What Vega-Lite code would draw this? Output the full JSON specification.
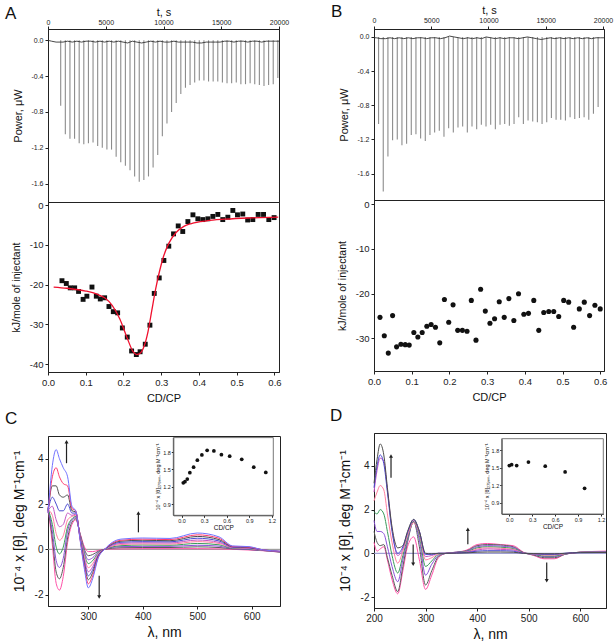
{
"$schema":"https://vega.github.io/schema/vega-lite/v6.json",
"background":"white",
"padding":{"left":4,"top":2,"right":0,"bottom":0},
"config":{
 "font":"Liberation Sans",
 "locale":{"number":{"decimal":".","thousands":"","grouping":[3],"currency":["$",""],"minus":"-"}},
 "view":{"stroke":"#222","strokeWidth":1},
 "axis":{"grid":false,"domainColor":"#222","tickColor":"#222","labelColor":"#222","titleColor":"#111","titleFontWeight":"normal","tickSize":3,"labelFontSize":7,"titleFontSize":11,"labelPadding":2,"labelFlush":false,"labelOverlap":false},
 "title":{"fontWeight":"normal","fontSize":17,"anchor":"start","frame":"bounds","color":"#111"}
},
"datasets":{
"rawA":[{"t":1100,"p":-0.73},{"t":1500,"p":-1.05},{"t":1900,"p":-1.1},{"t":2300,"p":-1.1},{"t":2700,"p":-1.15},{"t":3100,"p":-1.16},{"t":3500,"p":-1.15},{"t":3900,"p":-1.14},{"t":4300,"p":-1.18},{"t":4700,"p":-1.2},{"t":5100,"p":-1.22},{"t":5500,"p":-1.22},{"t":5900,"p":-1.3},{"t":6300,"p":-1.36},{"t":6700,"p":-1.4},{"t":7100,"p":-1.45},{"t":7500,"p":-1.52},{"t":7900,"p":-1.58},{"t":8300,"p":-1.56},{"t":8700,"p":-1.52},{"t":9100,"p":-1.42},{"t":9500,"p":-1.28},{"t":9900,"p":-1.07},{"t":10300,"p":-0.93},{"t":10700,"p":-0.8},{"t":11100,"p":-0.7},{"t":11500,"p":-0.6},{"t":11900,"p":-0.53},{"t":12300,"p":-0.5},{"t":12700,"p":-0.47},{"t":13100,"p":-0.45},{"t":13500,"p":-0.45},{"t":13900,"p":-0.46},{"t":14300,"p":-0.46},{"t":14700,"p":-0.46},{"t":15100,"p":-0.47},{"t":15500,"p":-0.48},{"t":15900,"p":-0.48},{"t":16300,"p":-0.47},{"t":16700,"p":-0.49},{"t":17100,"p":-0.49},{"t":17500,"p":-0.48},{"t":17900,"p":-0.49},{"t":18300,"p":-0.5},{"t":18700,"p":-0.51},{"t":19100,"p":-0.5},{"t":19500,"p":-0.49},{"t":19900,"p":-0.42}],
"baseA":[{"t":0,"p":0.0},{"t":300,"p":-0.01},{"t":700,"p":-0.02},{"t":1300,"p":-0.02},{"t":1700,"p":-0.01},{"t":2100,"p":-0.02},{"t":2500,"p":-0.01},{"t":2900,"p":-0.02},{"t":3300,"p":-0.01},{"t":3700,"p":-0.01},{"t":4100,"p":-0.02},{"t":4500,"p":-0.01},{"t":4900,"p":-0.02},{"t":5300,"p":-0.01},{"t":5700,"p":-0.02},{"t":6100,"p":-0.01},{"t":6500,"p":-0.02},{"t":6900,"p":-0.03},{"t":7300,"p":-0.01},{"t":7700,"p":-0.02},{"t":8100,"p":-0.03},{"t":8500,"p":-0.02},{"t":8900,"p":-0.01},{"t":9300,"p":-0.02},{"t":9700,"p":-0.01},{"t":10100,"p":-0.02},{"t":10500,"p":-0.02},{"t":10900,"p":-0.01},{"t":11300,"p":-0.02},{"t":11700,"p":-0.02},{"t":12100,"p":-0.02},{"t":12500,"p":-0.02},{"t":12900,"p":-0.03},{"t":13300,"p":-0.03},{"t":13700,"p":-0.02},{"t":14100,"p":-0.02},{"t":14500,"p":-0.02},{"t":14900,"p":-0.02},{"t":15300,"p":-0.01},{"t":15700,"p":-0.01},{"t":16100,"p":-0.02},{"t":16500,"p":-0.01},{"t":16900,"p":-0.01},{"t":17300,"p":-0.02},{"t":17700,"p":-0.01},{"t":18100,"p":-0.01},{"t":18500,"p":-0.02},{"t":18900,"p":-0.01},{"t":19300,"p":-0.01},{"t":19700,"p":-0.01},{"t":20000,"p":-0.01}],
"rawB":[{"t":400,"p":-1.02},{"t":808,"p":-1.81},{"t":1216,"p":-1.4},{"t":1624,"p":-1.21},{"t":2032,"p":-1.2},{"t":2440,"p":-1.27},{"t":2848,"p":-1.25},{"t":3256,"p":-1.15},{"t":3664,"p":-1.14},{"t":4072,"p":-1.19},{"t":4480,"p":-1.22},{"t":4888,"p":-1.15},{"t":5296,"p":-1.12},{"t":5704,"p":-1.1},{"t":6112,"p":-1.17},{"t":6520,"p":-1.07},{"t":6928,"p":-1.12},{"t":7336,"p":-1.06},{"t":7744,"p":-1.05},{"t":8152,"p":-1.12},{"t":8560,"p":-1.05},{"t":8968,"p":-1.08},{"t":9376,"p":-1.03},{"t":9784,"p":-1.05},{"t":10192,"p":-1.03},{"t":10600,"p":-1.08},{"t":11008,"p":-1.03},{"t":11416,"p":-1.02},{"t":11824,"p":-1.04},{"t":12232,"p":-1.02},{"t":12640,"p":-0.94},{"t":13048,"p":-1.02},{"t":13456,"p":-0.98},{"t":13864,"p":-0.99},{"t":14272,"p":-1.0},{"t":14680,"p":-1.02},{"t":15088,"p":-1.0},{"t":15496,"p":-0.95},{"t":15904,"p":-0.97},{"t":16312,"p":-0.97},{"t":16720,"p":-0.98},{"t":17128,"p":-0.94},{"t":17536,"p":-0.96},{"t":17944,"p":-0.95},{"t":18352,"p":-0.94},{"t":18760,"p":-0.97},{"t":19168,"p":-0.9},{"t":19576,"p":-0.82}],
"baseB":[{"t":0,"p":-0.01},{"t":200,"p":-0.01},{"t":600,"p":-0.02},{"t":1000,"p":-0.02},{"t":1400,"p":-0.01},{"t":1800,"p":-0.02},{"t":2200,"p":-0.01},{"t":2600,"p":-0.02},{"t":3000,"p":-0.01},{"t":3400,"p":-0.02},{"t":3800,"p":-0.01},{"t":4200,"p":-0.01},{"t":4600,"p":-0.02},{"t":5000,"p":-0.01},{"t":5400,"p":-0.01},{"t":5800,"p":-0.02},{"t":6200,"p":-0.01},{"t":6600,"p":0.01},{"t":7000,"p":0.0},{"t":7400,"p":-0.01},{"t":7800,"p":-0.02},{"t":8200,"p":-0.01},{"t":8600,"p":-0.02},{"t":9000,"p":-0.01},{"t":9400,"p":-0.02},{"t":9800,"p":0.0},{"t":10200,"p":-0.01},{"t":10600,"p":-0.02},{"t":11000,"p":-0.01},{"t":11400,"p":-0.02},{"t":11800,"p":-0.01},{"t":12200,"p":-0.01},{"t":12600,"p":-0.02},{"t":13000,"p":-0.01},{"t":13400,"p":0.0},{"t":13800,"p":-0.01},{"t":14200,"p":-0.02},{"t":14600,"p":-0.03},{"t":15000,"p":-0.02},{"t":15400,"p":-0.01},{"t":15800,"p":-0.02},{"t":16200,"p":-0.01},{"t":16600,"p":-0.02},{"t":17000,"p":-0.01},{"t":17400,"p":-0.02},{"t":17800,"p":-0.01},{"t":18200,"p":-0.02},{"t":18600,"p":-0.01},{"t":19000,"p":-0.02},{"t":19400,"p":-0.01},{"t":19800,"p":-0.01},{"t":20090,"p":-0.01}],
"ptsA":[{"x":0.037,"y":-19.0},{"x":0.0485,"y":-19.7},{"x":0.059,"y":-20.8},{"x":0.0706,"y":-20.8},{"x":0.081,"y":-21.7},{"x":0.093,"y":-23.7},{"x":0.103,"y":-22.9},{"x":0.1165,"y":-20.6},{"x":0.128,"y":-22.9},{"x":0.1385,"y":-23.6},{"x":0.15,"y":-23.3},{"x":0.1615,"y":-25.5},{"x":0.173,"y":-26.8},{"x":0.1845,"y":-27.1},{"x":0.197,"y":-30.9},{"x":0.21,"y":-33.2},{"x":0.2215,"y":-36.7},{"x":0.234,"y":-37.6},{"x":0.244,"y":-36.9},{"x":0.2577,"y":-35.0},{"x":0.27,"y":-30.2},{"x":0.2815,"y":-22.2},{"x":0.2947,"y":-18.3},{"x":0.307,"y":-13.9},{"x":0.32,"y":-10.3},{"x":0.3326,"y":-7.2},{"x":0.345,"y":-5.2},{"x":0.357,"y":-6.6},{"x":0.3706,"y":-4.1},{"x":0.384,"y":-2.4},{"x":0.397,"y":-3.4},{"x":0.41,"y":-3.6},{"x":0.4235,"y":-3.4},{"x":0.4368,"y":-2.8},{"x":0.45,"y":-2.3},{"x":0.463,"y":-3.6},{"x":0.4765,"y":-3.0},{"x":0.4897,"y":-1.3},{"x":0.502,"y":-2.4},{"x":0.516,"y":-2.2},{"x":0.529,"y":-3.7},{"x":0.5426,"y":-3.6},{"x":0.5568,"y":-2.3},{"x":0.571,"y":-2.3},{"x":0.585,"y":-3.6},{"x":0.599,"y":-3.1}],
"fitA":[{"x":0.015,"y":-20.6},{"x":0.05,"y":-20.9},{"x":0.1,"y":-21.6},{"x":0.13,"y":-22.4},{"x":0.15,"y":-23.3},{"x":0.17,"y":-25.2},{"x":0.19,"y":-28.6},{"x":0.21,"y":-33.5},{"x":0.225,"y":-36.8},{"x":0.235,"y":-37.6},{"x":0.245,"y":-37.2},{"x":0.255,"y":-35.4},{"x":0.265,"y":-31.8},{"x":0.275,"y":-26.5},{"x":0.285,"y":-21.2},{"x":0.295,"y":-16.8},{"x":0.305,"y":-13.2},{"x":0.32,"y":-9.6},{"x":0.34,"y":-6.8},{"x":0.36,"y":-5.3},{"x":0.38,"y":-4.6},{"x":0.42,"y":-3.9},{"x":0.47,"y":-3.5},{"x":0.53,"y":-3.2},{"x":0.61,"y":-3.0}],
"ptsB":[{"x":0.0159,"y":-25.3},{"x":0.0273,"y":-29.4},{"x":0.0379,"y":-33.3},{"x":0.0493,"y":-24.9},{"x":0.0599,"y":-31.9},{"x":0.0714,"y":-31.3},{"x":0.0828,"y":-31.4},{"x":0.0934,"y":-31.5},{"x":0.1057,"y":-28.7},{"x":0.1163,"y":-29.7},{"x":0.1278,"y":-28.7},{"x":0.1401,"y":-27.3},{"x":0.1515,"y":-26.9},{"x":0.163,"y":-27.5},{"x":0.1744,"y":-31.0},{"x":0.1868,"y":-21.3},{"x":0.1982,"y":-26.4},{"x":0.2097,"y":-22.5},{"x":0.222,"y":-28.2},{"x":0.2344,"y":-28.2},{"x":0.2467,"y":-28.4},{"x":0.2581,"y":-21.5},{"x":0.2705,"y":-30.4},{"x":0.2828,"y":-19.0},{"x":0.2952,"y":-23.9},{"x":0.3075,"y":-26.6},{"x":0.3198,"y":-25.6},{"x":0.3322,"y":-21.8},{"x":0.3454,"y":-25.3},{"x":0.3577,"y":-21.1},{"x":0.3709,"y":-26.0},{"x":0.3833,"y":-20.0},{"x":0.3974,"y":-24.6},{"x":0.4097,"y":-24.4},{"x":0.4238,"y":-21.5},{"x":0.437,"y":-28.2},{"x":0.4502,"y":-24.2},{"x":0.4634,"y":-24.0},{"x":0.4767,"y":-24.0},{"x":0.4899,"y":-25.1},{"x":0.5031,"y":-21.5},{"x":0.5163,"y":-21.9},{"x":0.5295,"y":-27.5},{"x":0.5445,"y":-23.4},{"x":0.5577,"y":-21.9},{"x":0.5718,"y":-24.9},{"x":0.5859,"y":-22.6},{"x":0.6,"y":-23.4}],
"zeroC":[{"l":226,"v":0},{"l":652,"v":0}],
"zeroD":[{"l":200,"v":0},{"l":650,"v":0}],
"specC":[
{"c":"k0","l":226,"v":1.9},{"c":"k1","l":226,"v":1.85},{"c":"k2","l":226,"v":1.8},{"c":"k3","l":226,"v":1.8},{"c":"k4","l":226,"v":1.75},{"c":"k5","l":226,"v":1.7},{"c":"k6","l":226,"v":1.7},{"c":"k7","l":226,"v":1.65},{"c":"k8","l":226,"v":1.6},{"c":"k9","l":226,"v":1.6},
{"c":"k0","l":234,"v":0.2},{"c":"k1","l":234,"v":0.5},{"c":"k2","l":234,"v":0.8},{"c":"k3","l":234,"v":1.1},{"c":"k4","l":234,"v":1.5},{"c":"k5","l":234,"v":1.9},{"c":"k6","l":234,"v":2.3},{"c":"k7","l":234,"v":2.8},{"c":"k8","l":234,"v":3.2},{"c":"k9","l":234,"v":3.7},
{"c":"k0","l":241,"v":-1.5},{"c":"k1","l":241,"v":-1.0},{"c":"k2","l":241,"v":-0.5},{"c":"k3","l":241,"v":0.1},{"c":"k4","l":241,"v":0.7},{"c":"k5","l":241,"v":1.3},{"c":"k6","l":241,"v":2.0},{"c":"k7","l":241,"v":2.8},{"c":"k8","l":241,"v":3.6},{"c":"k9","l":241,"v":4.4},
{"c":"k0","l":247,"v":-1.8},{"c":"k1","l":247,"v":-1.3},{"c":"k2","l":247,"v":-0.8},{"c":"k3","l":247,"v":-0.2},{"c":"k4","l":247,"v":0.4},{"c":"k5","l":247,"v":1.0},{"c":"k6","l":247,"v":1.7},{"c":"k7","l":247,"v":2.4},{"c":"k8","l":247,"v":3.2},{"c":"k9","l":247,"v":4.0},
{"c":"k0","l":254,"v":-1.2},{"c":"k1","l":254,"v":-0.8},{"c":"k2","l":254,"v":-0.4},{"c":"k3","l":254,"v":0.1},{"c":"k4","l":254,"v":0.6},{"c":"k5","l":254,"v":1.1},{"c":"k6","l":254,"v":1.7},{"c":"k7","l":254,"v":2.3},{"c":"k8","l":254,"v":2.9},{"c":"k9","l":254,"v":3.6},
{"c":"k0","l":262,"v":0.3},{"c":"k1","l":262,"v":0.5},{"c":"k2","l":262,"v":0.8},{"c":"k3","l":262,"v":1.0},{"c":"k4","l":262,"v":1.3},{"c":"k5","l":262,"v":1.6},{"c":"k6","l":262,"v":2.0},{"c":"k7","l":262,"v":2.4},{"c":"k8","l":262,"v":2.8},{"c":"k9","l":262,"v":3.2},
{"c":"k0","l":270,"v":1.1},{"c":"k1","l":270,"v":1.2},{"c":"k2","l":270,"v":1.3},{"c":"k3","l":270,"v":1.35},{"c":"k4","l":270,"v":1.45},{"c":"k5","l":270,"v":1.5},{"c":"k6","l":270,"v":1.6},{"c":"k7","l":270,"v":1.7},{"c":"k8","l":270,"v":1.8},{"c":"k9","l":270,"v":1.9},
{"c":"k0","l":277,"v":1.3},{"c":"k1","l":277,"v":1.35},{"c":"k2","l":277,"v":1.4},{"c":"k3","l":277,"v":1.45},{"c":"k4","l":277,"v":1.5},{"c":"k5","l":277,"v":1.55},{"c":"k6","l":277,"v":1.6},{"c":"k7","l":277,"v":1.65},{"c":"k8","l":277,"v":1.7},{"c":"k9","l":277,"v":1.7},
{"c":"k0","l":285,"v":0.7},{"c":"k1","l":285,"v":0.67},{"c":"k2","l":285,"v":0.63},{"c":"k3","l":285,"v":0.6},{"c":"k4","l":285,"v":0.57},{"c":"k5","l":285,"v":0.53},{"c":"k6","l":285,"v":0.5},{"c":"k7","l":285,"v":0.47},{"c":"k8","l":285,"v":0.43},{"c":"k9","l":285,"v":0.4},
{"c":"k0","l":293,"v":0.1},{"c":"k1","l":293,"v":-0.01},{"c":"k2","l":293,"v":-0.12},{"c":"k3","l":293,"v":-0.23},{"c":"k4","l":293,"v":-0.34},{"c":"k5","l":293,"v":-0.46},{"c":"k6","l":293,"v":-0.57},{"c":"k7","l":293,"v":-0.68},{"c":"k8","l":293,"v":-0.79},{"c":"k9","l":293,"v":-0.9},
{"c":"k0","l":300,"v":-0.1},{"c":"k1","l":300,"v":-0.28},{"c":"k2","l":300,"v":-0.46},{"c":"k3","l":300,"v":-0.63},{"c":"k4","l":300,"v":-0.81},{"c":"k5","l":300,"v":-0.99},{"c":"k6","l":300,"v":-1.17},{"c":"k7","l":300,"v":-1.34},{"c":"k8","l":300,"v":-1.52},{"c":"k9","l":300,"v":-1.7},
{"c":"k0","l":308,"v":-0.1},{"c":"k1","l":308,"v":-0.23},{"c":"k2","l":308,"v":-0.37},{"c":"k3","l":308,"v":-0.5},{"c":"k4","l":308,"v":-0.63},{"c":"k5","l":308,"v":-0.77},{"c":"k6","l":308,"v":-0.9},{"c":"k7","l":308,"v":-1.03},{"c":"k8","l":308,"v":-1.17},{"c":"k9","l":308,"v":-1.3},
{"c":"k0","l":318,"v":-0.05},{"c":"k1","l":318,"v":-0.09},{"c":"k2","l":318,"v":-0.13},{"c":"k3","l":318,"v":-0.17},{"c":"k4","l":318,"v":-0.21},{"c":"k5","l":318,"v":-0.24},{"c":"k6","l":318,"v":-0.28},{"c":"k7","l":318,"v":-0.32},{"c":"k8","l":318,"v":-0.36},{"c":"k9","l":318,"v":-0.4},
{"c":"k0","l":330,"v":0.0},{"c":"k1","l":330,"v":0.0},{"c":"k2","l":330,"v":0.0},{"c":"k3","l":330,"v":0.0},{"c":"k4","l":330,"v":0.0},{"c":"k5","l":330,"v":0.0},{"c":"k6","l":330,"v":0.0},{"c":"k7","l":330,"v":0.0},{"c":"k8","l":330,"v":0.0},{"c":"k9","l":330,"v":0.0},
{"c":"k0","l":360,"v":0.02},{"c":"k1","l":360,"v":0.07},{"c":"k2","l":360,"v":0.12},{"c":"k3","l":360,"v":0.16},{"c":"k4","l":360,"v":0.21},{"c":"k5","l":360,"v":0.26},{"c":"k6","l":360,"v":0.31},{"c":"k7","l":360,"v":0.36},{"c":"k8","l":360,"v":0.4},{"c":"k9","l":360,"v":0.45},
{"c":"k0","l":400,"v":0.03},{"c":"k1","l":400,"v":0.08},{"c":"k2","l":400,"v":0.13},{"c":"k3","l":400,"v":0.19},{"c":"k4","l":400,"v":0.24},{"c":"k5","l":400,"v":0.29},{"c":"k6","l":400,"v":0.34},{"c":"k7","l":400,"v":0.4},{"c":"k8","l":400,"v":0.45},{"c":"k9","l":400,"v":0.5},
{"c":"k0","l":450,"v":0.03},{"c":"k1","l":450,"v":0.08},{"c":"k2","l":450,"v":0.13},{"c":"k3","l":450,"v":0.18},{"c":"k4","l":450,"v":0.23},{"c":"k5","l":450,"v":0.28},{"c":"k6","l":450,"v":0.33},{"c":"k7","l":450,"v":0.38},{"c":"k8","l":450,"v":0.43},{"c":"k9","l":450,"v":0.48},
{"c":"k0","l":500,"v":0.03},{"c":"k1","l":500,"v":0.11},{"c":"k2","l":500,"v":0.18},{"c":"k3","l":500,"v":0.26},{"c":"k4","l":500,"v":0.34},{"c":"k5","l":500,"v":0.41},{"c":"k6","l":500,"v":0.49},{"c":"k7","l":500,"v":0.57},{"c":"k8","l":500,"v":0.64},{"c":"k9","l":500,"v":0.72},
{"c":"k0","l":540,"v":0.02},{"c":"k1","l":540,"v":0.08},{"c":"k2","l":540,"v":0.14},{"c":"k3","l":540,"v":0.2},{"c":"k4","l":540,"v":0.26},{"c":"k5","l":540,"v":0.31},{"c":"k6","l":540,"v":0.37},{"c":"k7","l":540,"v":0.43},{"c":"k8","l":540,"v":0.49},{"c":"k9","l":540,"v":0.55},
{"c":"k0","l":565,"v":0.0},{"c":"k1","l":565,"v":0.02},{"c":"k2","l":565,"v":0.03},{"c":"k3","l":565,"v":0.05},{"c":"k4","l":565,"v":0.07},{"c":"k5","l":565,"v":0.08},{"c":"k6","l":565,"v":0.1},{"c":"k7","l":565,"v":0.12},{"c":"k8","l":565,"v":0.13},{"c":"k9","l":565,"v":0.15},
{"c":"k0","l":595,"v":-0.03},{"c":"k1","l":595,"v":-0.01},{"c":"k2","l":595,"v":0.0},{"c":"k3","l":595,"v":0.02},{"c":"k4","l":595,"v":0.04},{"c":"k5","l":595,"v":0.05},{"c":"k6","l":595,"v":0.07},{"c":"k7","l":595,"v":0.09},{"c":"k8","l":595,"v":0.1},{"c":"k9","l":595,"v":0.12},
{"c":"k0","l":620,"v":-0.06},{"c":"k1","l":620,"v":-0.05},{"c":"k2","l":620,"v":-0.05},{"c":"k3","l":620,"v":-0.04},{"c":"k4","l":620,"v":-0.04},{"c":"k5","l":620,"v":-0.03},{"c":"k6","l":620,"v":-0.03},{"c":"k7","l":620,"v":-0.02},{"c":"k8","l":620,"v":-0.02},{"c":"k9","l":620,"v":-0.02},
{"c":"k0","l":652,"v":-0.12},{"c":"k1","l":652,"v":-0.12},{"c":"k2","l":652,"v":-0.11},{"c":"k3","l":652,"v":-0.11},{"c":"k4","l":652,"v":-0.1},{"c":"k5","l":652,"v":-0.1},{"c":"k6","l":652,"v":-0.1},{"c":"k7","l":652,"v":-0.09},{"c":"k8","l":652,"v":-0.09},{"c":"k9","l":652,"v":-0.08}
],
"specD":[
{"c":"k0","l":200,"v":0.5},{"c":"k1","l":200,"v":1.0},{"c":"k2","l":200,"v":1.5},{"c":"k3","l":200,"v":1.9},{"c":"k4","l":200,"v":2.4},{"c":"k5","l":200,"v":2.8},{"c":"k6","l":200,"v":3.0},{"c":"k7","l":200,"v":3.2},
{"c":"k0","l":206,"v":0.1},{"c":"k1","l":206,"v":0.5},{"c":"k2","l":206,"v":1.0},{"c":"k3","l":206,"v":1.8},{"c":"k4","l":206,"v":2.8},{"c":"k5","l":206,"v":3.8},{"c":"k6","l":206,"v":4.0},{"c":"k7","l":206,"v":4.3},
{"c":"k0","l":212,"v":0.2},{"c":"k1","l":212,"v":0.35},{"c":"k2","l":212,"v":1.0},{"c":"k3","l":212,"v":2.0},{"c":"k4","l":212,"v":3.1},{"c":"k5","l":212,"v":4.35},{"c":"k6","l":212,"v":4.5},{"c":"k7","l":212,"v":5.0},
{"c":"k0","l":219,"v":0.3},{"c":"k1","l":219,"v":0.4},{"c":"k2","l":219,"v":0.9},{"c":"k3","l":219,"v":1.8},{"c":"k4","l":219,"v":2.9},{"c":"k5","l":219,"v":4.2},{"c":"k6","l":219,"v":4.1},{"c":"k7","l":219,"v":4.5},
{"c":"k0","l":226,"v":-0.3},{"c":"k1","l":226,"v":-0.2},{"c":"k2","l":226,"v":0.3},{"c":"k3","l":226,"v":1.0},{"c":"k4","l":226,"v":1.8},{"c":"k5","l":226,"v":2.9},{"c":"k6","l":226,"v":2.8},{"c":"k7","l":226,"v":3.0},
{"c":"k0","l":235,"v":-1.2},{"c":"k1","l":235,"v":-1.0},{"c":"k2","l":235,"v":-0.6},{"c":"k3","l":235,"v":-0.1},{"c":"k4","l":235,"v":0.5},{"c":"k5","l":235,"v":1.1},{"c":"k6","l":235,"v":1.0},{"c":"k7","l":235,"v":1.2},
{"c":"k0","l":246,"v":-1.85},{"c":"k1","l":246,"v":-1.75},{"c":"k2","l":246,"v":-1.3},{"c":"k3","l":246,"v":-0.9},{"c":"k4","l":246,"v":-0.45},{"c":"k5","l":246,"v":-0.1},{"c":"k6","l":246,"v":0.0},{"c":"k7","l":246,"v":0.25},
{"c":"k0","l":256,"v":-0.8},{"c":"k1","l":256,"v":-0.6},{"c":"k2","l":256,"v":-0.3},{"c":"k3","l":256,"v":-0.1},{"c":"k4","l":256,"v":0.1},{"c":"k5","l":256,"v":0.2},{"c":"k6","l":256,"v":0.3},{"c":"k7","l":256,"v":0.35},
{"c":"k0","l":265,"v":0.3},{"c":"k1","l":265,"v":0.5},{"c":"k2","l":265,"v":0.6},{"c":"k3","l":265,"v":0.7},{"c":"k4","l":265,"v":0.8},{"c":"k5","l":265,"v":0.9},{"c":"k6","l":265,"v":0.95},{"c":"k7","l":265,"v":1.0},
{"c":"k0","l":277,"v":0.75},{"c":"k1","l":277,"v":1.45},{"c":"k2","l":277,"v":1.45},{"c":"k3","l":277,"v":1.45},{"c":"k4","l":277,"v":1.4},{"c":"k5","l":277,"v":1.5},{"c":"k6","l":277,"v":1.55},{"c":"k7","l":277,"v":1.55},
{"c":"k0","l":288,"v":-0.3},{"c":"k1","l":288,"v":0.3},{"c":"k2","l":288,"v":0.6},{"c":"k3","l":288,"v":0.8},{"c":"k4","l":288,"v":0.9},{"c":"k5","l":288,"v":1.0},{"c":"k6","l":288,"v":1.0},{"c":"k7","l":288,"v":1.0},
{"c":"k0","l":300,"v":-1.65},{"c":"k1","l":300,"v":-1.45},{"c":"k2","l":300,"v":-1.0},{"c":"k3","l":300,"v":-0.6},{"c":"k4","l":300,"v":-0.3},{"c":"k5","l":300,"v":-0.15},{"c":"k6","l":300,"v":-0.05},{"c":"k7","l":300,"v":0.0},
{"c":"k0","l":312,"v":-1.0},{"c":"k1","l":312,"v":-0.8},{"c":"k2","l":312,"v":-0.5},{"c":"k3","l":312,"v":-0.35},{"c":"k4","l":312,"v":-0.2},{"c":"k5","l":312,"v":-0.1},{"c":"k6","l":312,"v":-0.05},{"c":"k7","l":312,"v":-0.02},
{"c":"k0","l":325,"v":-0.2},{"c":"k1","l":325,"v":-0.15},{"c":"k2","l":325,"v":-0.1},{"c":"k3","l":325,"v":-0.05},{"c":"k4","l":325,"v":-0.03},{"c":"k5","l":325,"v":0.0},{"c":"k6","l":325,"v":0.0},{"c":"k7","l":325,"v":0.0},
{"c":"k0","l":340,"v":0.0},{"c":"k1","l":340,"v":0.0},{"c":"k2","l":340,"v":0.0},{"c":"k3","l":340,"v":0.0},{"c":"k4","l":340,"v":0.0},{"c":"k5","l":340,"v":0.0},{"c":"k6","l":340,"v":0.0},{"c":"k7","l":340,"v":0.0},
{"c":"k0","l":360,"v":0.05},{"c":"k1","l":360,"v":0.05},{"c":"k2","l":360,"v":0.05},{"c":"k3","l":360,"v":0.04},{"c":"k4","l":360,"v":0.03},{"c":"k5","l":360,"v":0.02},{"c":"k6","l":360,"v":0.02},{"c":"k7","l":360,"v":0.01},
{"c":"k0","l":380,"v":0.15},{"c":"k1","l":380,"v":0.12},{"c":"k2","l":380,"v":0.1},{"c":"k3","l":380,"v":0.08},{"c":"k4","l":380,"v":0.06},{"c":"k5","l":380,"v":0.05},{"c":"k6","l":380,"v":0.04},{"c":"k7","l":380,"v":0.02},
{"c":"k0","l":400,"v":0.4},{"c":"k1","l":400,"v":0.35},{"c":"k2","l":400,"v":0.3},{"c":"k3","l":400,"v":0.25},{"c":"k4","l":400,"v":0.2},{"c":"k5","l":400,"v":0.15},{"c":"k6","l":400,"v":0.1},{"c":"k7","l":400,"v":0.05},
{"c":"k0","l":420,"v":0.45},{"c":"k1","l":420,"v":0.4},{"c":"k2","l":420,"v":0.35},{"c":"k3","l":420,"v":0.3},{"c":"k4","l":420,"v":0.25},{"c":"k5","l":420,"v":0.2},{"c":"k6","l":420,"v":0.12},{"c":"k7","l":420,"v":0.06},
{"c":"k0","l":445,"v":0.4},{"c":"k1","l":445,"v":0.38},{"c":"k2","l":445,"v":0.33},{"c":"k3","l":445,"v":0.28},{"c":"k4","l":445,"v":0.23},{"c":"k5","l":445,"v":0.18},{"c":"k6","l":445,"v":0.12},{"c":"k7","l":445,"v":0.06},
{"c":"k0","l":470,"v":0.35},{"c":"k1","l":470,"v":0.3},{"c":"k2","l":470,"v":0.27},{"c":"k3","l":470,"v":0.22},{"c":"k4","l":470,"v":0.18},{"c":"k5","l":470,"v":0.15},{"c":"k6","l":470,"v":0.1},{"c":"k7","l":470,"v":0.05},
{"c":"k0","l":490,"v":0.05},{"c":"k1","l":490,"v":0.03},{"c":"k2","l":490,"v":0.02},{"c":"k3","l":490,"v":0.02},{"c":"k4","l":490,"v":0.01},{"c":"k5","l":490,"v":0.01},{"c":"k6","l":490,"v":0.0},{"c":"k7","l":490,"v":0.0},
{"c":"k0","l":510,"v":-0.1},{"c":"k1","l":510,"v":-0.08},{"c":"k2","l":510,"v":-0.05},{"c":"k3","l":510,"v":-0.04},{"c":"k4","l":510,"v":-0.03},{"c":"k5","l":510,"v":-0.02},{"c":"k6","l":510,"v":-0.02},{"c":"k7","l":510,"v":-0.01},
{"c":"k0","l":530,"v":-0.25},{"c":"k1","l":530,"v":-0.2},{"c":"k2","l":530,"v":-0.15},{"c":"k3","l":530,"v":-0.12},{"c":"k4","l":530,"v":-0.08},{"c":"k5","l":530,"v":-0.05},{"c":"k6","l":530,"v":-0.04},{"c":"k7","l":530,"v":-0.02},
{"c":"k0","l":550,"v":-0.25},{"c":"k1","l":550,"v":-0.2},{"c":"k2","l":550,"v":-0.15},{"c":"k3","l":550,"v":-0.12},{"c":"k4","l":550,"v":-0.08},{"c":"k5","l":550,"v":-0.05},{"c":"k6","l":550,"v":-0.04},{"c":"k7","l":550,"v":-0.02},
{"c":"k0","l":570,"v":-0.05},{"c":"k1","l":570,"v":-0.05},{"c":"k2","l":570,"v":-0.04},{"c":"k3","l":570,"v":-0.03},{"c":"k4","l":570,"v":-0.02},{"c":"k5","l":570,"v":-0.01},{"c":"k6","l":570,"v":0.0},{"c":"k7","l":570,"v":0.0},
{"c":"k0","l":600,"v":0.05},{"c":"k1","l":600,"v":0.05},{"c":"k2","l":600,"v":0.05},{"c":"k3","l":600,"v":0.05},{"c":"k4","l":600,"v":0.05},{"c":"k5","l":600,"v":0.04},{"c":"k6","l":600,"v":0.04},{"c":"k7","l":600,"v":0.03},
{"c":"k0","l":650,"v":0.1},{"c":"k1","l":650,"v":0.08},{"c":"k2","l":650,"v":0.08},{"c":"k3","l":650,"v":0.07},{"c":"k4","l":650,"v":0.06},{"c":"k5","l":650,"v":0.05},{"c":"k6","l":650,"v":0.05},{"c":"k7","l":650,"v":0.04}
],
"arrC":[{"l":260,"v":3.8,"v2":4.75},{"l":320,"v":-1.17,"v2":-2.1},{"l":392,"v":0.75,"v2":1.6}],
"headC":[{"l":260,"v":4.75,"d":"up"},{"l":320,"v":-2.1,"d":"down"},{"l":392,"v":1.6,"d":"up"}],
"arrD":[{"l":233,"v":3.45,"v2":4.45},{"l":276,"v":0.4,"v2":-0.5},{"l":382,"v":0.42,"v2":1.1},{"l":535,"v":-0.42,"v2":-1.25}],
"headD":[{"l":233,"v":4.45,"d":"up"},{"l":276,"v":-0.5,"d":"down"},{"l":382,"v":1.1,"d":"up"},{"l":535,"v":-1.25,"d":"down"}],
"boxC":[{"x":-0.11,"y":0.71,"x2":1.22,"y2":2.05}],
"boxD":[{"x":-0.1,"y":0.71,"x2":1.23,"y2":2.0}],
"insC":[{"x":0.023,"y":1.27},{"x":0.045,"y":1.29},{"x":0.076,"y":1.335},{"x":0.11,"y":1.445},{"x":0.16,"y":1.54},{"x":0.21,"y":1.66},{"x":0.27,"y":1.75},{"x":0.34,"y":1.83},{"x":0.43,"y":1.82},{"x":0.53,"y":1.755},{"x":0.64,"y":1.73},{"x":0.8,"y":1.675},{"x":0.96,"y":1.54},{"x":1.12,"y":1.45}],
"insD":[{"x":0.0,"y":1.54},{"x":0.03,"y":1.555},{"x":0.096,"y":1.54},{"x":0.25,"y":1.6},{"x":0.47,"y":1.53},{"x":0.73,"y":1.43},{"x":0.985,"y":1.15}]
},
"hconcat":[
 {"vconcat":[
   {"vconcat":[
     {"width":231,"height":173,
      "title":{"text":"A","dx":-8,"offset":-16.7},
      "encoding":{"x":{"field":"t","type":"quantitative","scale":{"domain":[0,20000],"nice":false,"zero":false},"axis":{"orient":"top","values":[0,5000,10000,15000,20000],"format":"d","title":"t, s","labelFontSize":7,"titleFontSize":11,"titlePadding":1,"labelPadding":1}},
                  "y":{"field":"p","type":"quantitative","scale":{"domain":[-1.805,0.126],"nice":false,"zero":false},"axis":{"orient":"left","values":[-1.6,-1.2,-0.8,-0.4,0],"format":".1f","title":"Power, μW","titlePadding":7}}},
      "layer":[
        {"data":{"name":"rawA"},"mark":{"type":"rule","color":"#8c8c8c","strokeWidth":1.1},"encoding":{"y2":{"datum":0}}},
        {"data":{"name":"baseA"},"mark":{"type":"line","color":"#333","strokeWidth":0.9}}
      ]},
     {"width":231,"height":170,
      "encoding":{"x":{"field":"x","type":"quantitative","scale":{"domain":[0,0.612],"nice":false,"zero":false},"axis":{"orient":"bottom","values":[0,0.1,0.2,0.3,0.4,0.5,0.6],"format":".1f","title":"CD/CP","labelFontSize":9.5,"titleFontSize":11,"titlePadding":6}},
                  "y":{"field":"y","type":"quantitative","scale":{"domain":[-42,0.83],"nice":false,"zero":false},"axis":{"orient":"left","values":[-40,-30,-20,-10,0],"title":"kJ/mole of injectant","labelFontSize":9.5,"titleFontSize":10.5,"titlePadding":8}}},
      "layer":[
        {"data":{"name":"ptsA"},"mark":{"type":"square","size":24,"color":"#111","opacity":1}},
        {"data":{"name":"fitA"},"mark":{"type":"line","color":"#f0102e","strokeWidth":1.3,"interpolate":"monotone"}}
      ]}
   ],"spacing":0,"bounds":"flush"},
   {"width":232,"height":170,
    "title":{"text":"C","dx":-7,"offset":8},
    "layer":[
      {"encoding":{"x":{"field":"l","type":"quantitative","scale":{"domain":[226,652],"nice":false,"zero":false},"axis":{"orient":"bottom","values":[300,400,500,600],"title":"λ, nm","labelFontSize":10,"titleFontSize":14,"titlePadding":4}},
                   "y":{"field":"v","type":"quantitative","scale":{"domain":[-2.5,5],"nice":false,"zero":false},"axis":{"orient":"left","values":[-2,0,2,4],"title":"10⁻⁴ x [θ], deg M⁻¹cm⁻¹","labelFontSize":10,"titleFontSize":14,"titlePadding":8}}},
       "layer":[
        {"data":{"name":"zeroC"},"mark":{"type":"line","color":"#8c8c8c","strokeWidth":1}},
        {"data":{"name":"specC"},"mark":{"type":"line","strokeWidth":1,"interpolate":"monotone"},
         "encoding":{"color":{"field":"c","type":"nominal","scale":{"domain":["k0","k1","k2","k3","k4","k5","k6","k7","k8","k9"],"range":["#ff4fa8","#5a5a5a","#8a4fd8","#3a9a5a","#ff7fa0","#c455c4","#4a4ad0","#4d4d4d","#ff3a70","#7272ff"]},"legend":null}}},
        {"data":{"name":"arrC"},"mark":{"type":"rule","color":"#222","strokeWidth":1.2},"encoding":{"y2":{"field":"v2"}}},
        {"data":{"name":"headC"},"mark":{"type":"point","filled":true,"color":"#222","size":16,"opacity":1},
         "encoding":{"shape":{"field":"d","type":"nominal","scale":{"domain":["up","down"],"range":["triangle-up","triangle-down"]},"legend":null}}}
      ]},
      {"encoding":{"x":{"field":"x","type":"quantitative","scale":{"domain":[-0.11,1.22],"range":[125.3,225.3],"nice":false,"zero":false},"axis":{"orient":"bottom","offset":-90.7,"values":[0,0.3,0.6,0.9,1.2],"format":".1f","title":"CD/CP","labelFontSize":5.5,"titleFontSize":6.5,"tickSize":2,"labelPadding":1,"titlePadding":1,"domainColor":"#555"}},
                   "y":{"field":"y","type":"quantitative","scale":{"domain":[0.71,2.05],"range":[79.3,1.6],"nice":false,"zero":false},"axis":{"orient":"left","offset":-125.3,"values":[0.9,1.2,1.5,1.8],"format":".1f","title":"10⁻⁴ x [θ]₂₇₀ₙₘ, deg M⁻¹cm⁻¹","labelFontSize":5.5,"titleFontSize":5.5,"tickSize":2,"labelPadding":1,"titlePadding":2,"domainColor":"#555"}}},
       "layer":[
        {"data":{"name":"boxC"},"mark":{"type":"rect","filled":false,"stroke":"#555","strokeWidth":0.8},"encoding":{"x2":{"field":"x2"},"y2":{"field":"y2"}}},
        {"data":{"name":"insC"},"mark":{"type":"circle","color":"#111","size":14,"opacity":1}}
      ]}
    ],
    "resolve":{"scale":{"x":"independent","y":"independent"}}}
 ],"spacing":5},
 {"vconcat":[
   {"vconcat":[
     {"width":230,"height":171,
      "title":{"text":"B","dx":-8,"offset":-16.7},
      "encoding":{"x":{"field":"t","type":"quantitative","scale":{"domain":[0,20090],"nice":false,"zero":false},"axis":{"orient":"top","values":[0,5000,10000,15000,20000],"format":"d","title":"t, s","labelFontSize":7,"titleFontSize":11,"titlePadding":1,"labelPadding":3}},
                  "y":{"field":"p","type":"quantitative","scale":{"domain":[-1.91,0.093],"nice":false,"zero":false},"axis":{"orient":"left","values":[-1.6,-1.2,-0.8,-0.4,0],"format":".1f","title":"Power, μW","titlePadding":7}}},
      "layer":[
        {"data":{"name":"rawB"},"mark":{"type":"rule","color":"#8c8c8c","strokeWidth":1.1},"encoding":{"y2":{"datum":0}}},
        {"data":{"name":"baseB"},"mark":{"type":"line","color":"#333","strokeWidth":0.9}}
      ]},
     {"width":230,"height":171,
      "data":{"name":"ptsB"},
      "mark":{"type":"circle","size":26,"color":"#111","opacity":1},
      "encoding":{"x":{"field":"x","type":"quantitative","scale":{"domain":[0,0.61],"nice":false,"zero":false},"axis":{"orient":"bottom","values":[0,0.1,0.2,0.3,0.4,0.5,0.6],"format":".1f","title":"CD/CP","labelFontSize":9.5,"titleFontSize":11,"titlePadding":6}},
                  "y":{"field":"y","type":"quantitative","scale":{"domain":[-37.3,0.96],"nice":false,"zero":false},"axis":{"orient":"left","values":[-30,-20,-10,0],"title":"kJ/mole of injectant","labelFontSize":9.5,"titleFontSize":10.5,"titlePadding":8}}}}
   ],"spacing":0,"bounds":"flush"},
   {"width":232,"height":175,
    "title":{"text":"D","dx":-8,"offset":8},
    "layer":[
      {"encoding":{"x":{"field":"l","type":"quantitative","scale":{"domain":[200,650],"nice":false,"zero":false},"axis":{"orient":"bottom","values":[200,300,400,500,600],"title":"λ, nm","labelFontSize":10,"titleFontSize":14,"titlePadding":4}},
                   "y":{"field":"v","type":"quantitative","scale":{"domain":[-2.5,5.5],"nice":false,"zero":false},"axis":{"orient":"left","values":[-2,0,2,4],"title":"10⁻⁴ x [θ], deg M⁻¹cm⁻¹","labelFontSize":10,"titleFontSize":14,"titlePadding":8}}},
       "layer":[
        {"data":{"name":"zeroD"},"mark":{"type":"line","color":"#8a8ac8","strokeWidth":1}},
        {"data":{"name":"specD"},"mark":{"type":"line","strokeWidth":1,"interpolate":"monotone"},
         "encoding":{"color":{"field":"c","type":"nominal","scale":{"domain":["k0","k1","k2","k3","k4","k5","k6","k7"],"range":["#ff2a4a","#3a4acc","#2f8f6a","#c95ae8","#6f7f3f","#ff4fb4","#4a5ae0","#6a2a3a"]},"legend":null}}},
        {"data":{"name":"arrD"},"mark":{"type":"rule","color":"#222","strokeWidth":1.2},"encoding":{"y2":{"field":"v2"}}},
        {"data":{"name":"headD"},"mark":{"type":"point","filled":true,"color":"#222","size":16,"opacity":1},
         "encoding":{"shape":{"field":"d","type":"nominal","scale":{"domain":["up","down"],"range":["triangle-up","triangle-down"]},"legend":null}}}
      ]},
      {"encoding":{"x":{"field":"x","type":"quantitative","scale":{"domain":[-0.1,1.23],"range":[127.7,229.3],"nice":false,"zero":false},"axis":{"orient":"bottom","offset":-94,"values":[0,0.3,0.6,0.9,1.2],"format":".1f","title":"CD/CP","labelFontSize":5.5,"titleFontSize":6.5,"tickSize":2,"labelPadding":1,"titlePadding":1,"domainColor":"#555"}},
                   "y":{"field":"y","type":"quantitative","scale":{"domain":[0.71,2.0],"range":[81,5.7],"nice":false,"zero":false},"axis":{"orient":"left","offset":-127.7,"values":[0.9,1.2,1.5,1.8],"format":".1f","title":"10⁻⁴ x [θ]₂₇₅ₙₘ, deg M⁻¹cm⁻¹","labelFontSize":5.5,"titleFontSize":5.5,"tickSize":2,"labelPadding":1,"titlePadding":2,"domainColor":"#555"}}},
       "layer":[
        {"data":{"name":"boxD"},"mark":{"type":"rect","filled":false,"stroke":"#555","strokeWidth":0.8},"encoding":{"x2":{"field":"x2"},"y2":{"field":"y2"}}},
        {"data":{"name":"insD"},"mark":{"type":"circle","color":"#111","size":14,"opacity":1}}
      ]}
    ],
    "resolve":{"scale":{"x":"independent","y":"independent"}}}
 ],"spacing":3}
],
"spacing":39
}
